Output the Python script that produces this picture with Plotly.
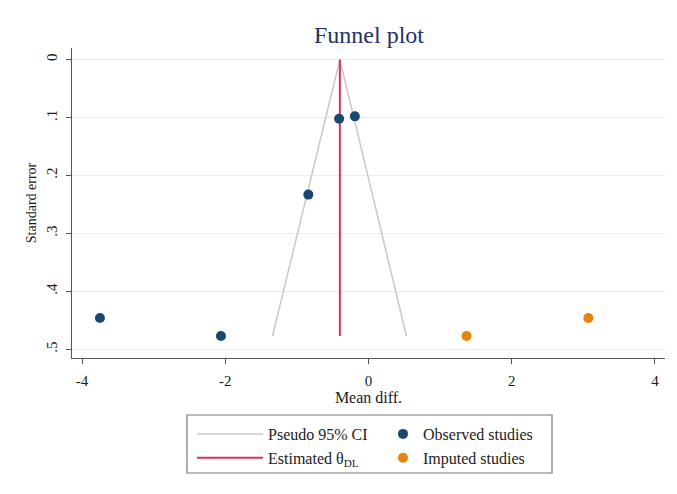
import plotly.graph_objects as go

# Data
obs_x = [-0.41, -0.19, -0.84, -3.75, -2.06]
obs_se = [0.102, 0.098, 0.233, 0.446, 0.477]
imp_x = [1.37, 3.07]
imp_se = [0.477, 0.446]
theta = -0.40
ci_left_x = [-1.34, -0.40]
ci_right_x = [0.53, -0.40]
ci_se = [0.477, 0.0]
theta_x = [theta, theta]
theta_se = [0.0, 0.477]
y_ticks = [0, 0.1, 0.2, 0.3, 0.4, 0.5]
y_ticklabels = ["0", ".1", ".2", ".3", ".4", ".5"]
x_ticks = [-4, -2, 0, 2, 4]
x_ticklabels = ["-4", "-2", "0", "2", "4"]

NAVY = "#1a476f"
ORANGE = "#e8830c"
RED = "#d6325a"
GREY = "#c8c8c8"
FONT = "Liberation Serif"

fig = go.Figure()
fig.add_trace(go.Scatter(x=ci_left_x, y=ci_se, mode="lines",
                         line=dict(color=GREY, width=1.5),
                         name="Pseudo 95% CI", legend="legend"))
fig.add_trace(go.Scatter(x=ci_right_x, y=ci_se, mode="lines",
                         line=dict(color=GREY, width=1.5),
                         showlegend=False))
fig.add_trace(go.Scatter(x=theta_x, y=theta_se, mode="lines",
                         line=dict(color=RED, width=2),
                         name="Estimated θ<sub>DL</sub>", legend="legend"))
fig.add_trace(go.Scatter(x=obs_x, y=obs_se, mode="markers",
                         marker=dict(color=NAVY, size=10),
                         name="Observed studies", legend="legend2"))
fig.add_trace(go.Scatter(x=imp_x, y=imp_se, mode="markers",
                         marker=dict(color=ORANGE, size=10),
                         name="Imputed studies", legend="legend2"))

OFF = 8  # browser body margin
W, H = 677, 494
# plot area in reference pixel coordinates
RX0, RX1, RY0, RY1 = 72, 665, 48, 358
L = RX0 - OFF
T = RY0 - OFF
R = W - (RX1 - OFF)
B = H - (RY1 - OFF)
pw = W - L - R
ph = H - T - B

def px2x(px):
    return (px - RX0) / pw

def py2y(py):
    return (RY1 - py) / ph

fig.update_layout(
    width=W, height=H,
    margin=dict(l=L, r=R, t=T, b=B),
    paper_bgcolor="white", plot_bgcolor="white",
    font=dict(family=FONT, size=15, color="#1a1a1a"),
    title=dict(text="Funnel plot", x=(369 - OFF) / W, xanchor="center",
               y=1 - (35 - OFF) / H, yanchor="middle",
               font=dict(family=FONT, size=24, color="#22336a")),
    xaxis=dict(range=[-4.14, 4.14], tickvals=x_ticks, ticktext=x_ticklabels,
               showgrid=False, zeroline=False, showline=True,
               linecolor="#555555", linewidth=1.2, ticks="outside",
               ticklen=5, tickcolor="#555555", ticklabelstandoff=4,
               title=dict(text="Mean diff.", standoff=3,
                          font=dict(family=FONT, size=16)),
               tickfont=dict(family=FONT, size=15)),
    yaxis=dict(range=[0.515, -0.02], tickvals=y_ticks, ticktext=y_ticklabels,
               showgrid=True, gridcolor="#e8f0f1", gridwidth=1,
               zeroline=False, showline=True,
               linecolor="#555555", linewidth=1.2, ticks="outside",
               ticklen=5, tickcolor="#555555", tickangle=-90,
               ticklabelstandoff=3,
               title=dict(text="Standard error", standoff=4,
                          font=dict(family=FONT, size=14)),
               tickfont=dict(family=FONT, size=15)),
    legend=dict(x=px2x(192), y=py2y(417), xanchor="left", yanchor="top",
                bgcolor="rgba(0,0,0,0)", borderwidth=0, itemwidth=66,
                font=dict(family=FONT, size=16, color="#222222"),
                tracegroupgap=0),
    legend2=dict(x=px2x(383), y=py2y(417), xanchor="left", yanchor="top",
                 bgcolor="rgba(0,0,0,0)", borderwidth=0, itemwidth=30,
                 font=dict(family=FONT, size=16, color="#222222"),
                 tracegroupgap=0),
    shapes=[
        dict(type="rect", xref="paper", yref="paper",
             x0=px2x(187), x1=px2x(552), y0=py2y(415), y1=py2y(473),
             line=dict(color="#777777", width=1.2), fillcolor="rgba(0,0,0,0)"),
    ],
)

fig.write_html("out.html")
